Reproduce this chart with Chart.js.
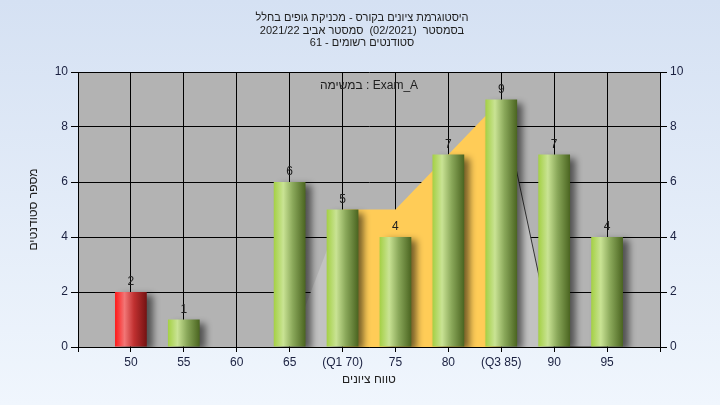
<!DOCTYPE html>
<html>
<head>
<meta charset="utf-8">
<script src="https://cdn.jsdelivr.net/npm/chart.js@4.4.0/dist/chart.umd.min.js"></script>
<style>
  html, body { margin: 0; padding: 0; }
  body { width: 720px; height: 405px; overflow: hidden; background: linear-gradient(#d5e1f3, #f0f6fd); }
</style>
</head>
<body>
<canvas id="histChart" width="720" height="405"></canvas>
<script>
/* ---------- DATA ---------- */
const grades = [50, 55, 60, 65, 70, 75, 80, 85, 90, 95];
const students = [2, 1, 0, 6, 5, 4, 7, 9, 7, 4];
const rangeArea = [0, 0, 0, 0, 5, 5, 7, 9, 0, 0];
const tickNames = { 70: "(Q1 70)", 85: "(Q3 85)" };
const titleLines = [
  "היסטוגרמת ציונים בקורס - מכניקת גופים בחלל",
  "בסמסטר  (02/2021)  סמסטר אביב 2021/22",
  "סטודנטים רשומים - 61"
];
const examLabel = "במשימה : Exam_A";
const passGrade = 55;
const quartiles = [70, 85];

const BAR_PCT = 0.6;
Chart.defaults.font.family = "'Liberation Sans', Arial, sans-serif";
Chart.defaults.font.size = 12;

/* ---------- BAR GRADIENT ---------- */
function barFill(c) {
  const x = c.chart.scales.x;
  const fallback = "#8fb040";
  if (!x || c.type !== "data") return fallback;
  const v = grades[c.dataIndex];
  const mid = x.getPixelForValue(v);
  const half = (x.getPixelForValue(55) - x.getPixelForValue(50)) * BAR_PCT / 2;
  if (!isFinite(mid) || !isFinite(half) || half <= 0) return fallback;
  const g = c.chart.ctx.createLinearGradient(mid - half, 0, mid + half, 0);
  if (v < passGrade) {
    g.addColorStop(0, "#ff1818");
    g.addColorStop(0.3, "#f27676");
    g.addColorStop(0.6, "#c03030");
    g.addColorStop(1, "#741212");
  } else {
    g.addColorStop(0, "#a4d044");
    g.addColorStop(0.3, "#c9e394");
    g.addColorStop(0.6, "#8aa85a");
    g.addColorStop(1, "#4a6420");
  }
  return g;
}

/* ---------- PLUGINS ---------- */
const plotBg = {
  id: "plotBg",
  beforeDraw(chart) {
    const { ctx, chartArea: a } = chart;
    ctx.save();
    ctx.fillStyle = "#b3b3b3";
    ctx.fillRect(a.left, a.top, a.width, a.height);
    ctx.restore();
  }
};

const barShadow = {
  id: "barShadow",
  beforeDatasetDraw(chart, args) {
    if (args.meta.type !== "bar") return;
    const ctx = chart.ctx;
    ctx.save();
    ctx.shadowColor = "rgba(0,0,0,0.55)";
    ctx.shadowBlur = 7;
    ctx.shadowOffsetX = 6;
    ctx.shadowOffsetY = 3;
  },
  afterDatasetDraw(chart, args) {
    if (args.meta.type !== "bar") return;
    chart.ctx.restore();
  }
};

const texts = {
  id: "texts",
  afterDatasetsDraw(chart) {
    const { ctx, chartArea: a } = chart;
    ctx.save();
    ctx.font = "12px 'Liberation Sans', Arial, sans-serif";
    ctx.fillStyle = "#202020";
    ctx.textAlign = "center";
    ctx.textBaseline = "bottom";
    const meta = chart.getDatasetMeta(1);
    meta.data.forEach((bar, i) => {
      if (students[i] > 0) ctx.fillText(String(students[i]), bar.x, bar.y - 4);
    });
    ctx.textBaseline = "middle";
    ctx.fillText(examLabel, (a.left + a.right) / 2, a.top + 14);
    ctx.font = "11px 'Liberation Sans', Arial, sans-serif";
    titleLines.forEach((t, i) => ctx.fillText(t, 362, 18 + i * 12.5));
    ctx.restore();
  }
};

/* ---------- CHART ---------- */
const ctx = document.getElementById("histChart").getContext("2d");

new Chart(ctx, {
  data: {
    datasets: [
      {
        type: "line",
        order: 1,
        data: grades.map((g, i) => ({ x: g, y: rangeArea[i] })),
        fill: "origin",
        pointRadius: 0,
        borderWidth: 1,
        tension: 0,
        segment: {
          borderColor: s => s.p0.parsed.x >= quartiles[1] ? "#333333" : "rgba(0,0,0,0)",
          backgroundColor: s => (s.p0.parsed.x >= quartiles[0] && s.p1.parsed.x <= quartiles[1]) ? "#ffcc57" : "#c2c2c2"
        }
      },
      {
        type: "bar",
        order: 0,
        data: grades.map((g, i) => ({ x: g, y: students[i] })),
        backgroundColor: barFill,
        borderWidth: 0,
        barPercentage: BAR_PCT,
        categoryPercentage: 1
      }
    ]
  },
  options: {
    responsive: false,
    animation: false,
    layout: { padding: { top: 72, left: 0, right: 0, bottom: 0 } },
    plugins: { legend: { display: false }, tooltip: { enabled: false } },
    scales: {
      x: {
        type: "linear",
        min: 45,
        max: 100,
        offset: false,
        afterFit: s => { s.height = 58; },
        ticks: {
          stepSize: 5,
          autoSkip: false,
          maxRotation: 0,
          padding: 3,
          color: "#1a2040",
          callback: v => (v < 50 || v > 95) ? "" : (tickNames[v] || String(v))
        },
        grid: { offset: false, color: "#000000", tickColor: "#000000", tickLength: 5 },
        border: { color: "#000000" },
        title: { display: true, text: "טווח ציונים", color: "#202020", padding: { top: 0, bottom: 18 } }
      },
      y: {
        position: "left",
        min: 0,
        max: 10,
        afterFit: s => { s.width = 78; },
        ticks: { stepSize: 2, padding: 3, color: "#1a2040" },
        grid: { color: "#000000", tickColor: "#000000", tickLength: 7 },
        border: { color: "#000000" },
        title: { display: true, text: "מספר סטודנטים", color: "#202020", padding: { top: 26, bottom: 0 } }
      },
      y2: {
        position: "right",
        min: 0,
        max: 10,
        afterFit: s => { s.width = 60; },
        ticks: { stepSize: 2, padding: 3, color: "#1a2040" },
        grid: { drawOnChartArea: false, color: "#000000", tickColor: "#000000", tickLength: 7 },
        border: { color: "#000000" }
      }
    }
  },
  plugins: [plotBg, barShadow, texts]
});
</script>
</body>
</html>
